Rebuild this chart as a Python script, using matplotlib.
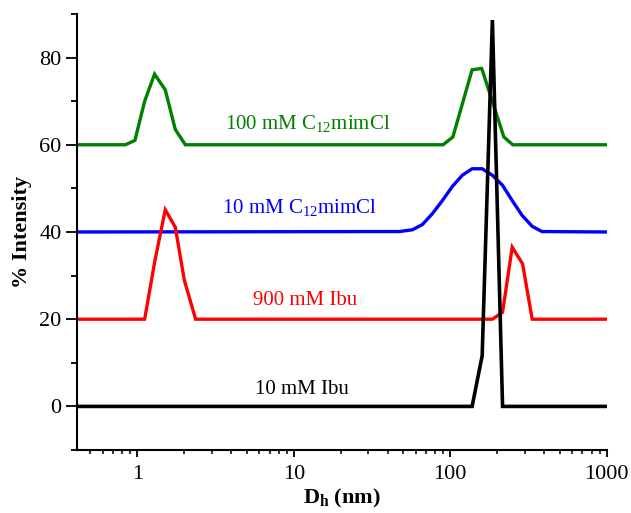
import matplotlib
matplotlib.use('Agg')
import matplotlib.pyplot as plt
from matplotlib.ticker import LogLocator, MultipleLocator, FixedLocator

plt.rcParams['font.family'] = 'Liberation Serif'
plt.rcParams['mathtext.fontset'] = 'custom'
plt.rcParams['mathtext.rm'] = 'Liberation Serif'
plt.rcParams['mathtext.bf'] = 'Liberation Serif:bold'

# DLS size distributions (offset curves)
ibu10_x = [0.41, 138, 160, 186, 216, 1000]
ibu10_y = [0, 0, 11.6, 88.6, 0, 0]

ibu900_x = [0.41, 1.115, 1.29, 1.51, 1.75, 2.0, 2.36, 186, 216, 249, 290, 334, 1000]
ibu900_y = [20, 20, 33, 45.1, 41.1, 28.9, 20, 20, 21.6, 36.5, 32.7, 20, 20]

c12_10_x = [0.41, 47.2, 57.3, 66.4, 76.9, 89.1, 103, 119.4, 138, 160, 186, 216, 249, 288, 334, 386, 1000]
c12_10_y = [40, 40.1, 40.5, 41.7, 44.2, 47.2, 50.4, 53.0, 54.5, 54.5, 53.0, 50.7, 47.2, 43.8, 41.3, 40.1, 40]

c12_100_x = [0.41, 0.84, 0.966, 1.115, 1.29, 1.51, 1.75, 2.03, 90, 104, 138, 159, 220, 251, 1000]
c12_100_y = [60, 60, 61, 70, 76.2, 72.6, 63.5, 60, 60, 61.8, 77.2, 77.5, 61.8, 60, 60]

# labels: (text, x, y, colour)
labels = [
    (r'100 mM C$_{12}$mimCl', 12.2, 63.6, '#007f00'),
    (r'10 mM C$_{12}$mimCl', 10.9, 44.3, '#0000ff'),
    ('900 mM Ibu', 11.9, 23.3, '#ff0000'),
    ('10 mM Ibu', 11.2, 2.9, 'black'),
]

fig = plt.figure(figsize=(6.31, 5.13), dpi=100)
ax = fig.add_axes([0.1215, 0.1228, 0.84, 0.85])

ax.plot(c12_100_x, c12_100_y, color='#007f00', lw=2.4, solid_joinstyle='miter')
ax.plot(c12_10_x, c12_10_y, color='#0000ff', lw=2.4)
ax.plot(ibu900_x, ibu900_y, color='#ff0000', lw=2.4, solid_joinstyle='miter')
ax.plot(ibu10_x, ibu10_y, color='black', lw=2.6, solid_joinstyle='miter')

for txt, x, y, c in labels:
    ax.text(x, y, txt, color=c, fontsize=15, ha='center', va='baseline')

ax.set_xscale('log')
ax.set_xlim(0.41, 1000)
ax.set_ylim(-10, 90)
ax.set_xticks([1, 10, 100, 1000])
ax.set_xticklabels(['1', '10', '100', '1000'])
ax.xaxis.set_minor_locator(LogLocator(base=10, subs=range(2, 10)))
ax.xaxis.set_minor_formatter(plt.NullFormatter())
ax.yaxis.set_major_locator(FixedLocator([0, 20, 40, 60, 80]))
ax.yaxis.set_minor_locator(MultipleLocator(10))

ax.spines['top'].set_visible(False)
ax.spines['right'].set_visible(False)
ax.spines['left'].set_linewidth(1.5)
ax.spines['bottom'].set_linewidth(1.5)
ax.tick_params(axis='y', which='major', direction='out', length=8, width=1.3, labelsize=16, pad=3)
ax.tick_params(axis='y', which='minor', direction='out', length=4.5, width=1.3)
ax.tick_params(axis='x', which='major', direction='out', length=5, width=1.3, labelsize=16, pad=6)
ax.tick_params(axis='x', which='minor', direction='out', length=3, width=1.1)

ax.set_ylabel('% Intensity', fontsize=16, fontweight='bold', labelpad=5)
ax.set_xlabel(r'$\mathbf{D_h}$ (nm)', fontsize=16, fontweight='bold', labelpad=2)

fig.savefig('out.png', dpi=100)
